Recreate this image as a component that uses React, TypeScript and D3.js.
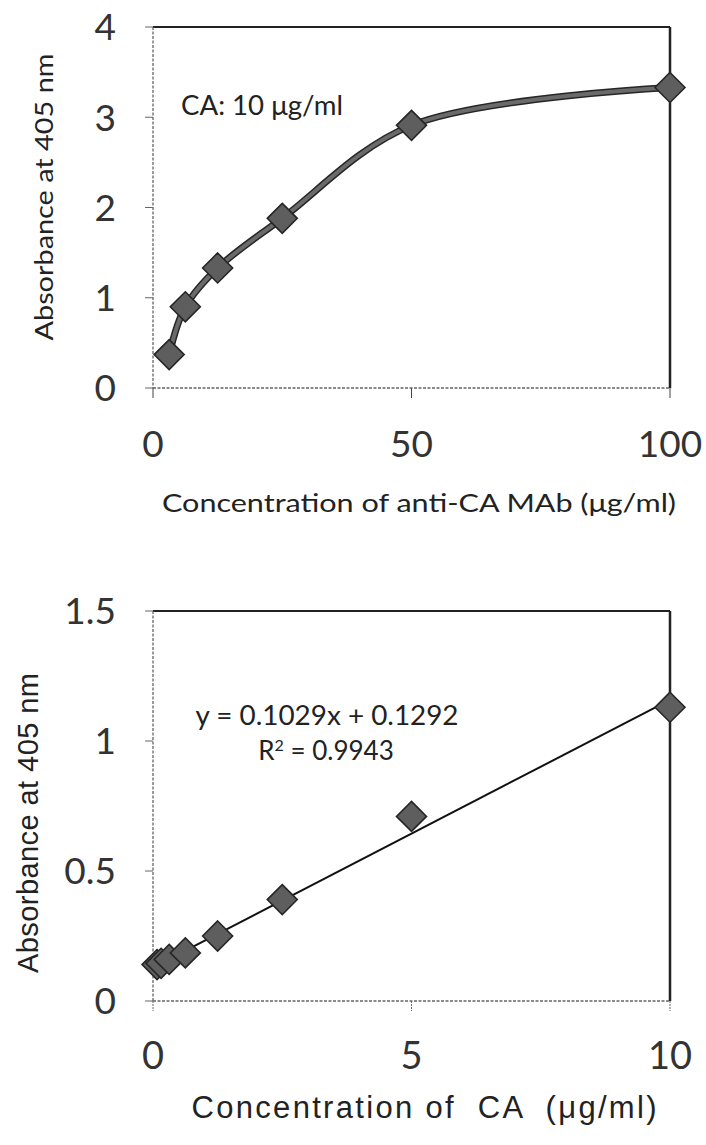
import React from 'react';
import * as d3 from 'd3';

// top panel: absorbance vs antibody concentration
const mabConc = [3.125, 6.25, 12.5, 25, 50, 100];
const mabAbs = [0.37, 0.9, 1.33, 1.88, 2.91, 3.33];
const topXTicks = [0, 50, 100];
const topYTicks = [0, 1, 2, 3, 4];

// bottom panel: standard curve for CA
const caConc = [0.078, 0.156, 0.3125, 0.625, 1.25, 2.5, 5, 10];
const caAbs = [0.14, 0.145, 0.16, 0.185, 0.25, 0.39, 0.71, 1.13];
const botXTicks = [0, 5, 10];
const botYTicks = [0, 0.5, 1, 1.5];
const slope = 0.1029;
const intercept = 0.1292;

const calibri = 'Lato, "Open Sans", sans-serif';
const arial = '"Liberation Sans", Arial, sans-serif';

const Diamond = ({cx, cy}: {cx: number; cy: number}) => {
    const r = 15;
    return (
        <path
            d={`M${cx},${cy - r}L${cx + r},${cy}L${cx},${cy + r}L${cx - r},${cy}Z`}
            fill="#5e5e5e"
            stroke="#262626"
            strokeWidth={1.6}
        />
    );
};

const Frame = ({x0, x1, y0, y1}: {x0: number; x1: number; y0: number; y1: number}) => (
    <g>
        <line x1={x0} x2={x1} y1={y0} y2={y0} stroke="#222" strokeWidth={2} />
        <line x1={x1} x2={x1} y1={y0} y2={y1} stroke="#222" strokeWidth={2.5} />
        <line x1={x0} x2={x0} y1={y0} y2={y1} stroke="#666" strokeWidth={1.3} strokeDasharray="3,1.5" />
        <line x1={x0} x2={x1} y1={y1} y2={y1} stroke="#666" strokeWidth={1.3} strokeDasharray="3,1.5" />
    </g>
);

const App = () => {
    // top chart scales
    const tx = d3.scaleLinear().domain([0, 100]).range([153, 670]);
    const ty = d3.scaleLinear().domain([0, 4]).range([388, 27]);

    // bottom chart scales
    const bx = d3.scaleLinear().domain([0, 10]).range([153, 670]);
    const by = d3.scaleLinear().domain([0, 1.5]).range([1001, 611]);

    const smooth = d3.line<number>()
        .x((d, i) => tx(mabConc[i]))
        .y(d => ty(d))
        .curve(d3.curveCatmullRom.alpha(0.5));

    const fitX = [0, d3.max(caConc) as number];

    return (
        <svg width={706} height={1145} style={{position: 'absolute', left: 0, top: 0, background: '#fff'}}>
            {/* ---------- top panel ---------- */}
            <Frame x0={tx(0)} x1={tx(100)} y0={ty(4)} y1={ty(0)} />
            {topYTicks.map(t => (
                <g key={'ty' + t}>
                    <line x1={tx(0) - 8} x2={tx(0)} y1={ty(t)} y2={ty(t)} stroke="#666" strokeWidth={1} />
                    <text x={116} y={ty(t)} dy="0.36em" textAnchor="end" fontFamily={calibri} fontSize={37} fill="#333">{t}</text>
                </g>
            ))}
            {topXTicks.map(t => (
                <g key={'tx' + t}>
                    <line x1={tx(t)} x2={tx(t)} y1={ty(0)} y2={ty(0) + 10} stroke="#444" strokeWidth={1} />
                    <text x={tx(t)} y={457} textAnchor="middle" fontFamily={calibri} fontSize={37} fill="#333">{t}</text>
                </g>
            ))}
            <path d={smooth(mabAbs) || ''} fill="none" stroke="#262626" strokeWidth={7} />
            <path d={smooth(mabAbs) || ''} fill="none" stroke="#6a6a6a" strokeWidth={4} />
            {mabAbs.map((v, i) => <Diamond key={'tm' + i} cx={tx(mabConc[i])} cy={ty(v)} />)}
            <text x={181} y={115} fontFamily={calibri} fontSize={26} fill="#222" textLength={162} lengthAdjust="spacingAndGlyphs">CA: 10 μg/ml</text>
            <text transform="translate(53,197) rotate(-90)" textAnchor="middle" fontFamily={calibri} fontSize={25} fill="#222" textLength={287} lengthAdjust="spacingAndGlyphs">Absorbance at 405 nm</text>
            <text x={419} y={512} textAnchor="middle" fontFamily={calibri} fontSize={25} fill="#222" textLength={514} lengthAdjust="spacingAndGlyphs">Concentration of anti-CA MAb (μg/ml)</text>

            {/* ---------- bottom panel ---------- */}
            <Frame x0={bx(0)} x1={bx(10)} y0={by(1.5)} y1={by(0)} />
            {botYTicks.map(t => (
                <g key={'by' + t}>
                    <line x1={bx(0) - 8} x2={bx(0)} y1={by(t)} y2={by(t)} stroke="#666" strokeWidth={1} />
                    <text x={116} y={by(t)} dy="0.36em" textAnchor="end" fontFamily={calibri} fontSize={37} fill="#333">{t}</text>
                </g>
            ))}
            {botXTicks.map(t => (
                <g key={'bx' + t}>
                    <line x1={bx(t)} x2={bx(t)} y1={by(0)} y2={by(0) + 10} stroke="#666" strokeWidth={1} strokeDasharray="2,1" />
                    <text x={bx(t)} y={1069} textAnchor="middle" fontFamily={calibri} fontSize={38} fill="#333">{t}</text>
                </g>
            ))}
            <line
                x1={bx(fitX[0])} y1={by(slope * fitX[0] + intercept)}
                x2={bx(fitX[1])} y2={by(slope * fitX[1] + intercept)}
                stroke="#111" strokeWidth={2}
            />
            {caAbs.map((v, i) => <Diamond key={'bm' + i} cx={bx(caConc[i])} cy={by(v)} />)}
            <text x={327} y={725} textAnchor="middle" fontFamily={calibri} fontSize={26} fill="#222" textLength={263} lengthAdjust="spacingAndGlyphs">y = 0.1029x + 0.1292</text>
            <text x={326} y={760} textAnchor="middle" fontFamily={calibri} fontSize={26} fill="#222">R<tspan dy={-9} fontSize={16}>2</tspan><tspan dy={9}> = 0.9943</tspan></text>
            <text transform="translate(38,823) rotate(-90)" textAnchor="middle" fontFamily={arial} fontSize={29} fill="#222" textLength={300} lengthAdjust="spacing">Absorbance at 405 nm</text>
            <text x={424} y={1118} textAnchor="middle" fontFamily={arial} fontSize={31} fill="#222" textLength={465} lengthAdjust="spacing" style={{whiteSpace: 'pre'}}>Concentration of  CA  (μg/ml)</text>
        </svg>
    );
};

export default App;
